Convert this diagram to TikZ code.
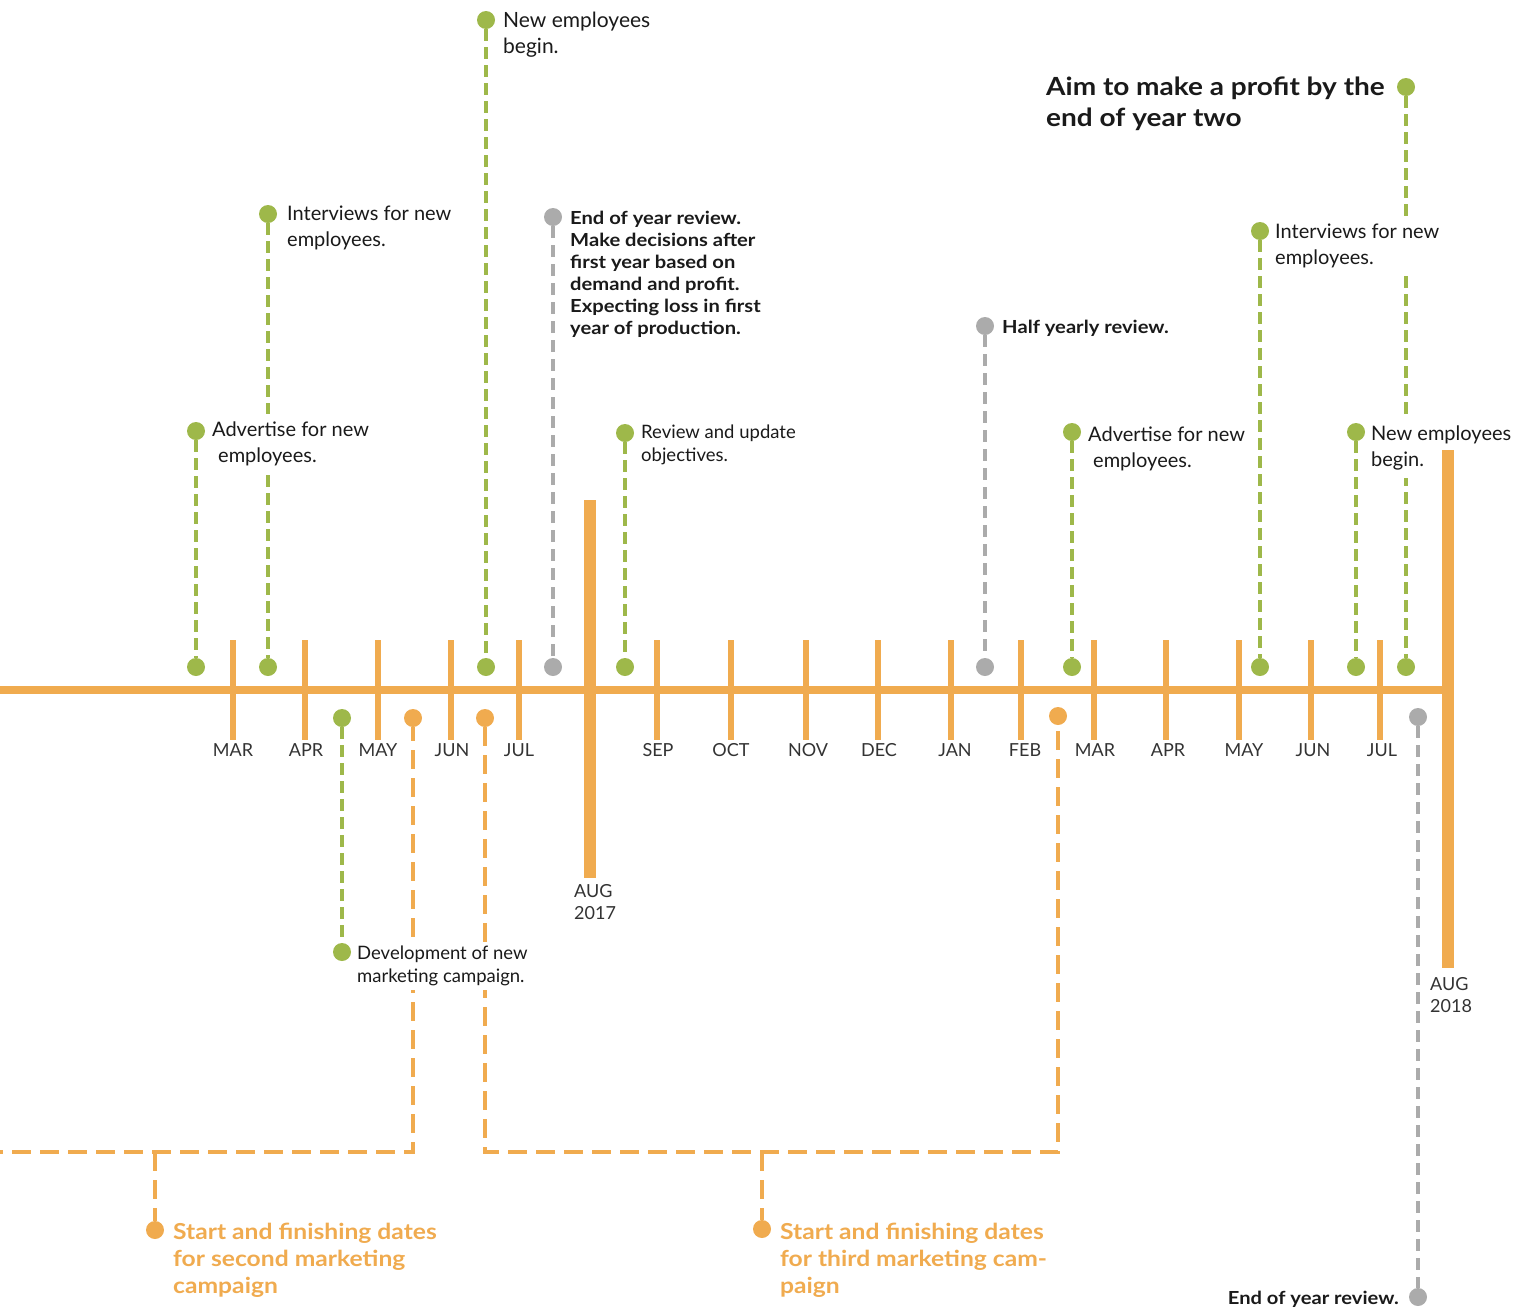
\documentclass[tikz,border=0pt]{standalone}
\usepackage{fontspec}
\setmainfont{Lato}[BoldFeatures={FakeStretch=1.12}]
\definecolor{cor}{HTML}{F0AB4F}
\definecolor{cgr}{HTML}{9EB84A}
\definecolor{cgy}{HTML}{ABABAB}
\definecolor{ctx}{HTML}{1A1A1A}
\definecolor{cmo}{HTML}{333333}
\tikzset{
  dot/.style={circle, inner sep=0pt, minimum size=18pt},
  gdot/.style={dot, fill=cgr},
  ydot/.style={dot, fill=cgy},
  odot/.style={dot, fill=cor},
  gdash/.style={draw=cgr, line width=3.5pt, dash pattern=on 12pt off 6pt},
  ydash/.style={draw=cgy, line width=3.5pt, dash pattern=on 12pt off 7pt},
  odash/.style={draw=cor, line width=4pt, dash pattern=on 19pt off 9pt},
  axisline/.style={draw=cor, line width=8pt},
  tick/.style={draw=cor, line width=6pt},
  bigbar/.style={draw=cor, line width=12.5pt},
  lbl/.style={font=\fontsize{20}{26}\selectfont, text=ctx, align=left, anchor=west, inner sep=4pt, fill=white},
  smlbl/.style={lbl, font=\fontsize{18.5}{22.5}\selectfont},
  boldlbl/.style={lbl, font=\bfseries\fontsize{18}{22}\selectfont},
  aimlbl/.style={lbl, font=\bfseries\fontsize{25}{31}\selectfont},
  orlbl/.style={lbl, font=\bfseries\fontsize{22}{27}\selectfont, text=cor},
  month/.style={font=\fontsize{18}{22}\selectfont, text=cmo, inner sep=0pt, align=left},
}
\begin{document}
\begin{tikzpicture}[x=1pt,y=-1pt]
\useasboundingbox (0,0) rectangle (1528,1315);

% axis and ticks
\coordinate (axl) at (0,690);
\coordinate (axr) at (1448,690);
\draw[axisline] (axl) -- (axr);
\draw[bigbar] (590,500) -- (590,878);
\foreach \x in {233,305,378,451,519,657,731,806,878,951,1021,1094,1166,1239,1311,1380}
  \draw[tick] (\x,640) -- (\x,740);

% month labels
\node[month] (m1) at (233,750) {MAR};
\node[month] (m2) at (306,750) {APR};
\node[month] (m3) at (378,750) {MAY};
\node[month] (m4) at (452,750) {JUN};
\node[month] (m5) at (519,750) {JUL};
\node[month] (m6) at (658,750) {SEP};
\node[month] (m7) at (731,750) {OCT};
\node[month] (m8) at (808,750) {NOV};
\node[month] (m9) at (879,750) {DEC};
\node[month] (m10) at (955,750) {JAN};
\node[month] (m11) at (1025,750) {FEB};
\node[month] (m12) at (1095,750) {MAR};
\node[month] (m13) at (1168,750) {APR};
\node[month] (m14) at (1244,750) {MAY};
\node[month] (m15) at (1313,750) {JUN};
\node[month] (m16) at (1382,750) {JUL};
\node[month, anchor=west] (aug17) at (574,902) {AUG\\2017};
\node[month, anchor=west] (aug18) at (1430,995.5) {AUG\\2018};

% dots above axis
\node[gdot] (t1) at (196,431) {};  \node[gdot] (b1) at (196,667) {};
\node[gdot] (t2) at (268,214) {};  \node[gdot] (b2) at (268,667) {};
\node[gdot] (t3) at (486,20) {};   \node[gdot] (b3) at (486,667) {};
\node[ydot] (t4) at (553,217) {};  \node[ydot] (b4) at (553,667) {};
\node[gdot] (t5) at (625,433) {};  \node[gdot] (b5) at (625,667) {};
\node[ydot] (t6) at (985,326) {};  \node[ydot] (b6) at (985,667) {};
\node[gdot] (t7) at (1072,432) {}; \node[gdot] (b7) at (1072,667) {};
\node[gdot] (t8) at (1260,231) {}; \node[gdot] (b8) at (1260,667) {};
\node[gdot] (t9) at (1356,432) {}; \node[gdot] (b9) at (1356,667) {};
\node[gdot] (t10) at (1406,87) {}; \node[gdot] (b10) at (1406,667) {};

% dots below axis
\node[gdot] (u1) at (342,718) {};  \node[gdot] (v1) at (342,952) {};
\node[odot] (u2) at (413,718) {};
\node[odot] (u3) at (485,718) {};
\node[odot] (u4) at (1058,716) {};
\node[ydot] (u5) at (1418,717) {}; \node[ydot] (v5) at (1418,1297) {};
\node[odot] (w2) at (155,1230) {};
\node[odot] (w3) at (762,1229) {};

% connectors
\draw[gdash] (t1) -- (b1);
\draw[gdash] (t2) -- (b2);
\draw[gdash] (t3) -- (b3);
\draw[ydash] (t4) -- (b4);
\draw[gdash] (t5) -- (b5);
\draw[ydash] (t6) -- (b6);
\draw[gdash] (t7) -- (b7);
\draw[gdash] (t8) -- (b8);
\draw[gdash] (t9) -- (b9);
\draw[gdash] (t10) -- (b10);
\draw[gdash] (u1) -- (v1);
\draw[ydash] (u5) -- (v5);

\coordinate (lend) at (0,1152);
\coordinate (c3) at (1058,1152);
\coordinate (br2) at (155,1152);
\coordinate (br3) at (762,1152);
\draw[odash, dash phase=5pt] (u2) |- (lend);
\draw[odash] (u3) |- (c3) -- (u4);
\draw[odash] (br2) -- (w2);
\draw[odash] (br3) -- (w3);

% labels
\node[lbl, font=\fontsize{21}{26}\selectfont] (l3) at (499,35) {New employees\\begin.};
\node[lbl] (l2) at (283,228) {Interviews for new\\employees.};
\node[lbl, inner ysep=8pt] (l1) at (208,444) {Advertise for new\\\hspace*{6pt}employees.};
\node[boldlbl] (l4) at (566,274) {End of year review.\\Make decisions after\\first year based on\\demand and profit.\\Expecting loss in first\\year of production.};
\node[smlbl] (l5) at (637,445) {Review and update\\objectives.};
\node[boldlbl] (l6) at (998,328) {Half yearly review.};
\node[aimlbl] (l10a) at (1042,104) {Aim to make a profit by the\\end of year two};
\node[lbl] (l8) at (1271,246) {Interviews for new\\employees.};
\node[lbl] (l7) at (1084,449) {Advertise for new\\\hspace*{5pt}employees.};
\node[lbl, inner ysep=8pt] (l9) at (1367,448) {New employees\\begin.};
\node[smlbl] (l11) at (353,966) {Development of new\\marketing campaign.};
\node[orlbl] (l12) at (169,1260) {Start and finishing dates\\for second marketing\\campaign};
\node[orlbl] (l13) at (776,1260) {Start and finishing dates\\for third marketing cam-\\paign};
\node[boldlbl, anchor=east] (l14) at (1403,1299) {End of year review.};

% right end bar (drawn last, above the label fill)
\draw[bigbar] (1448,450) -- (1448,968);
\end{tikzpicture}
\end{document}
